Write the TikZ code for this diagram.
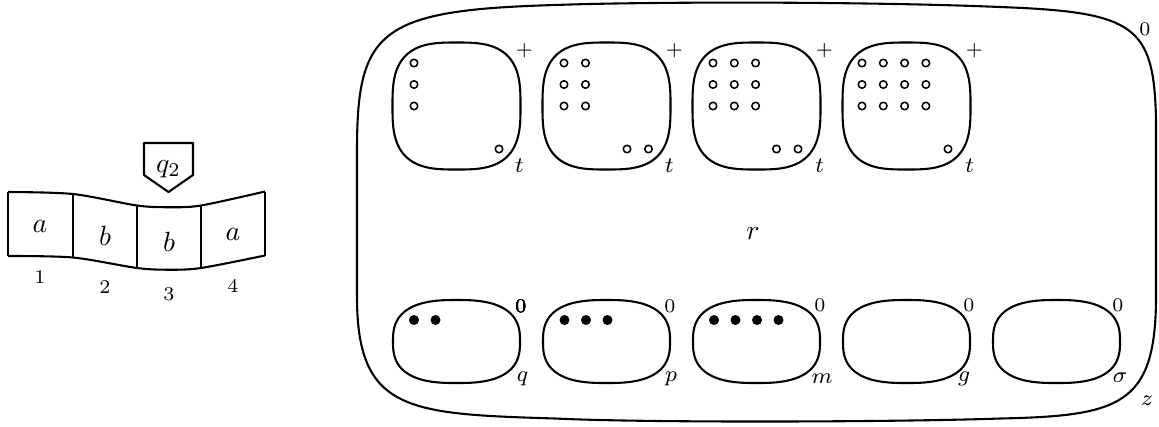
\documentclass[tikz,border=0pt]{standalone}
\begin{document}
\begin{tikzpicture}[x=0.36pt,y=-0.36pt,line join=round,
  mem/.style={line width=0.75pt},
  tapeline/.style={line width=0.75pt},
  hollow/.style={circle,draw,line width=0.55pt,minimum size=7.5*0.36pt,inner sep=0pt},
  solid/.style={circle,fill,minimum size=10*0.36pt,inner sep=0pt},
  lab/.style={font=\scriptsize,inner sep=0pt},
  letlab/.style={font=\footnotesize,inner sep=0pt},
  sym/.style={inner sep=0pt}]
\useasboundingbox (0,0) rectangle (1159,426);
\newcommand\supell[5]{%
  \draw[mem] plot[domain=0.5:359.5,samples=360,variable=\t]
   ({#1+#3*sign(cos(\t))*pow(abs(cos(\t)),#5)},{#2+#4*sign(sin(\t))*pow(abs(sin(\t)),#5)}) -- cycle;}
% ---------- tape ----------
\coordinate (t0) at (8,192);   \coordinate (b0) at (8,256);
\coordinate (t1) at (73,194);  \coordinate (b1) at (73,257.5);
\coordinate (t2) at (137,205.5); \coordinate (b2) at (137,268);
\coordinate (t3) at (201,205.5); \coordinate (b3) at (201,268);
\coordinate (t4) at (265,191.5); \coordinate (b4) at (265,255.5);
\draw[tapeline] plot[smooth] coordinates {(t0) (t1) (t2) (169,207.2) (t3) (t4)};
\draw[tapeline] plot[smooth] coordinates {(b0) (b1) (b2) (169,269.7) (b3) (b4)};
\foreach \i in {0,...,4} \draw[tapeline] (t\i) -- (b\i);
\node[sym] (c1) at (40,227) {$a$};
\node[sym] (c2) at (105,236) {$b$};
\node[sym] (c3) at (169,242) {$b$};
\node[sym] (c4) at (233,235) {$a$};
\node[lab] (n1) at (40,277) {1};
\node[lab] (n2) at (105,287) {2};
\node[lab] (n3) at (169,294) {3};
\node[lab] (n4) at (233,286) {4};
% head
\draw[tapeline] (144,143) -- (193,143) -- (193,175) -- (168.5,192) -- (144,175) -- cycle;
\node[sym,anchor=base] (head) at (168.5,172) {$q_2$};
% ---------- skin membrane ----------
\draw[mem] (357,150) .. controls (357,30) and (380,10) .. (555,5)
  .. controls (650,1.5) and (870,1.5) .. (1000,7)
  .. controls (1135,12) and (1154,25) .. (1156,120)
  -- (1156,300)
  .. controls (1155,405) and (1120,416) .. (1000,418.5)
  .. controls (900,422) and (650,423) .. (555,418.5)
  .. controls (410,414) and (358,412) .. (357,300) -- cycle;
\node[lab] (skin0) at (1145,29) {$0$};
\node[letlab] (skinz) at (1147,401) {$z$};
\node[sym] (r) at (753,234) {$r$};
% ---------- upper membranes ----------
\foreach \cx in {456.5,606.5,756.5,906.5} {
  \supell{\cx}{106}{64}{63.5}{0.6667}
  \node[lab] at (\cx+68,51) {$+$};
  \node[letlab] at (\cx+63,166) {$t$};
}
% contents
\foreach \k in {0,1,2} \node[hollow] at (414,63+21.5*\k) {};
\node[hollow] at (499,149) {};
\foreach \j in {0,1} \foreach \k in {0,1,2} \node[hollow] at (564+21.5*\j,63+21.5*\k) {};
\foreach \j in {0,1} \node[hollow] at (627+21.5*\j,149) {};
\foreach \j in {0,1,2} \foreach \k in {0,1,2} \node[hollow] at (713+21.3*\j,63+21.5*\k) {};
\foreach \j in {0,1} \node[hollow] at (776.5+21.5*\j,149) {};
\foreach \j in {0,1,2,3} \foreach \k in {0,1,2} \node[hollow] at (862+21.3*\j,63+21.5*\k) {};
\node[hollow] at (948,149) {};
% ---------- lower membranes ----------
\foreach \cx in {456.5,606.5,756.5,906.5,1056.5} \supell{\cx}{341.5}{63.5}{41.5}{0.75}
\node[lab] at (521,306) {$0$};  \node[letlab] at (522.5,379) {$q$};
\node[lab] at (670,306) {$0$};  \node[letlab] at (671,379) {$p$};
\node[lab] at (820,305) {$0$};  \node[letlab] at (822,379) {$m$};
\node[lab] at (969,305) {$0$};  \node[letlab] at (964,379) {$g$};
\node[lab] at (1118,305) {$0$}; \node[letlab] at (1120,378) {$\sigma$};
\foreach \j in {0,1} \node[solid] at (414+21.5*\j,320) {};
\foreach \j in {0,1,2} \node[solid] at (564.5+21.5*\j,320) {};
\foreach \j in {0,1,2,3} \node[solid] at (714+21.5*\j,320) {};
\end{tikzpicture}
\end{document}
